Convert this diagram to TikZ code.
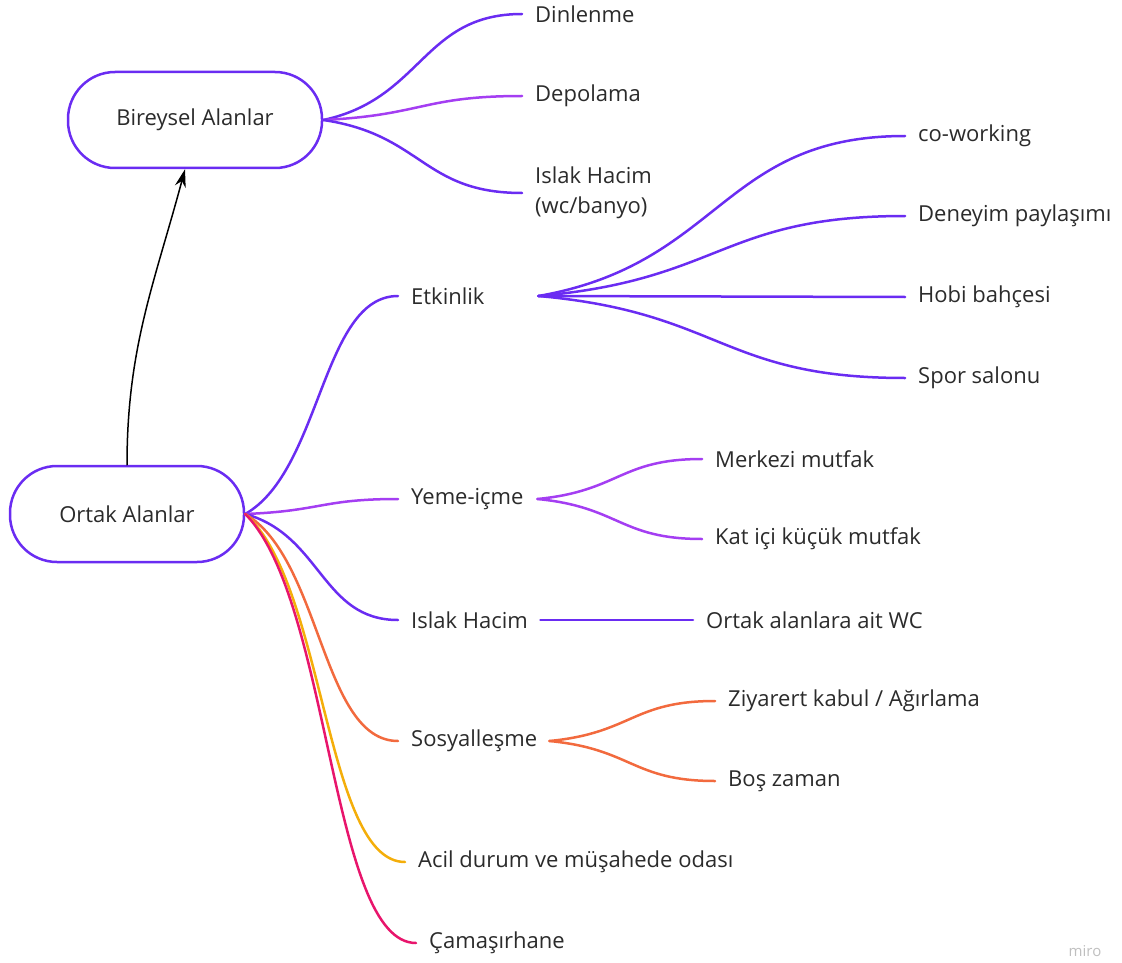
\documentclass[tikz,border=0pt]{standalone}
\usepackage{fontspec}
\setmainfont{Open Sans}
\usetikzlibrary{positioning,arrows.meta,calc}

\definecolor{mviolet}{HTML}{6A2CF2}
\definecolor{mlilac}{HTML}{A43EF2}
\definecolor{morange}{HTML}{F26A3E}
\definecolor{myellow}{HTML}{F4AE0A}
\definecolor{mpink}{HTML}{E8156C}
\definecolor{ink}{HTML}{2B2B2B}

\begin{document}
\begin{tikzpicture}[x=1pt, y=-1pt, line cap=round,
  every node/.style={font=\fontsize{22}{30}\selectfont, text=ink},
  area/.style={draw=mviolet, line width=2.5pt, rounded corners=47pt, minimum height=96pt},
  mid/.style={anchor=west, inner xsep=13pt, inner ysep=0pt},
  leaf/.style={anchor=west, inner xsep=13pt, inner ysep=0pt, align=left},
  branch/.style={line width=2.5pt, to path={let \p1=(\tikztostart), \p2=(\tikztotarget) in
    .. controls ({0.5*\x1+0.5*\x2},{0.8*\y1+0.2*\y2}) and ({0.5*\x1+0.5*\x2},\y2) .. (\tikztotarget)}}]
\useasboundingbox (0,0) rectangle (1122,963);

% main areas
\node[area, minimum width=254pt] (bir) at (195,120) {Bireysel Alanlar};
\node[area, minimum width=234pt] (ortak) at (127,514) {Ortak Alanlar};
\draw[line width=1.5pt, -{Stealth[length=18pt,width=11pt]}] (ortak.north) to[out=90, in=-105] ([xshift=-10pt]bir.south);

% bireysel
\node[leaf] (din) at (522,14) {Dinlenme};
\node[leaf] (dep) at (522,96) {Depolama};
\node[leaf] (islb) at (522,193) {Islak Hacim\\(wc/banyo)};
\draw[branch, mviolet] (bir.east) to (din.west);
\draw[branch, mlilac] (bir.east) to (dep.west);
\draw[branch, mviolet] (bir.east) to (islb.west);

% ortak
\node[mid] (etk) at (398,296) {\makebox[114pt][l]{Etkinlik}};
\node[mid] (yeme) at (398,499) {\makebox[113pt][l]{Yeme-içme}};
\node[mid] (isl) at (398,620) {\makebox[116pt][l]{Islak Hacim}};
\node[mid] (sos) at (398,741) {\makebox[125pt][l]{Sosyalleşme}};
\node[leaf] (acil) at (405,862) {Acil durum ve müşahede odası};
\node[leaf] (cam) at (416,943) {Çamaşırhane};
\draw[branch, mviolet] (ortak.east) to (etk.west);
\draw[branch, mlilac] (ortak.east) to (yeme.west);
\draw[branch, mviolet] (ortak.east) to (isl.west);
\draw[branch, morange] (ortak.east) to (sos.west);
\draw[branch, myellow] (ortak.east) to (acil.west);
\draw[branch, mpink] (ortak.east) to (cam.west);

% etkinlik
\node[leaf] (cow) at (905,136) {co-working};
\node[leaf] (den) at (905,216) {Deneyim paylaşımı};
\node[leaf] (hob) at (905,297) {Hobi bahçesi};
\node[leaf] (spor) at (905,378) {Spor salonu};
\foreach \kid in {cow,den,hob,spor}
  \draw[branch, mviolet] (etk.east) to (\kid.west);

% yeme-icme
\node[leaf] (mer) at (702,459) {Merkezi mutfak};
\node[leaf] (kat) at (702,539) {Kat içi küçük mutfak};
\draw[branch, mlilac] (yeme.east) to (mer.west);
\draw[branch, mlilac] (yeme.east) to (kat.west);

% islak hacim
\node[leaf] (wc) at (693,620) {Ortak alanlara ait WC};
\draw[branch, mviolet] (isl.east) to (wc.west);

% sosyallesme
\node[leaf] (ziy) at (715,701) {Ziyarert kabul / Ağırlama};
\node[leaf] (bos) at (715,781) {Boş zaman};
\draw[branch, morange] (sos.east) to (ziy.west);
\draw[branch, morange] (sos.east) to (bos.west);

\node[font=\fontsize{15}{18}\selectfont, text=black!25] (miro) at (1085,951) {miro};
\end{tikzpicture}
\end{document}
